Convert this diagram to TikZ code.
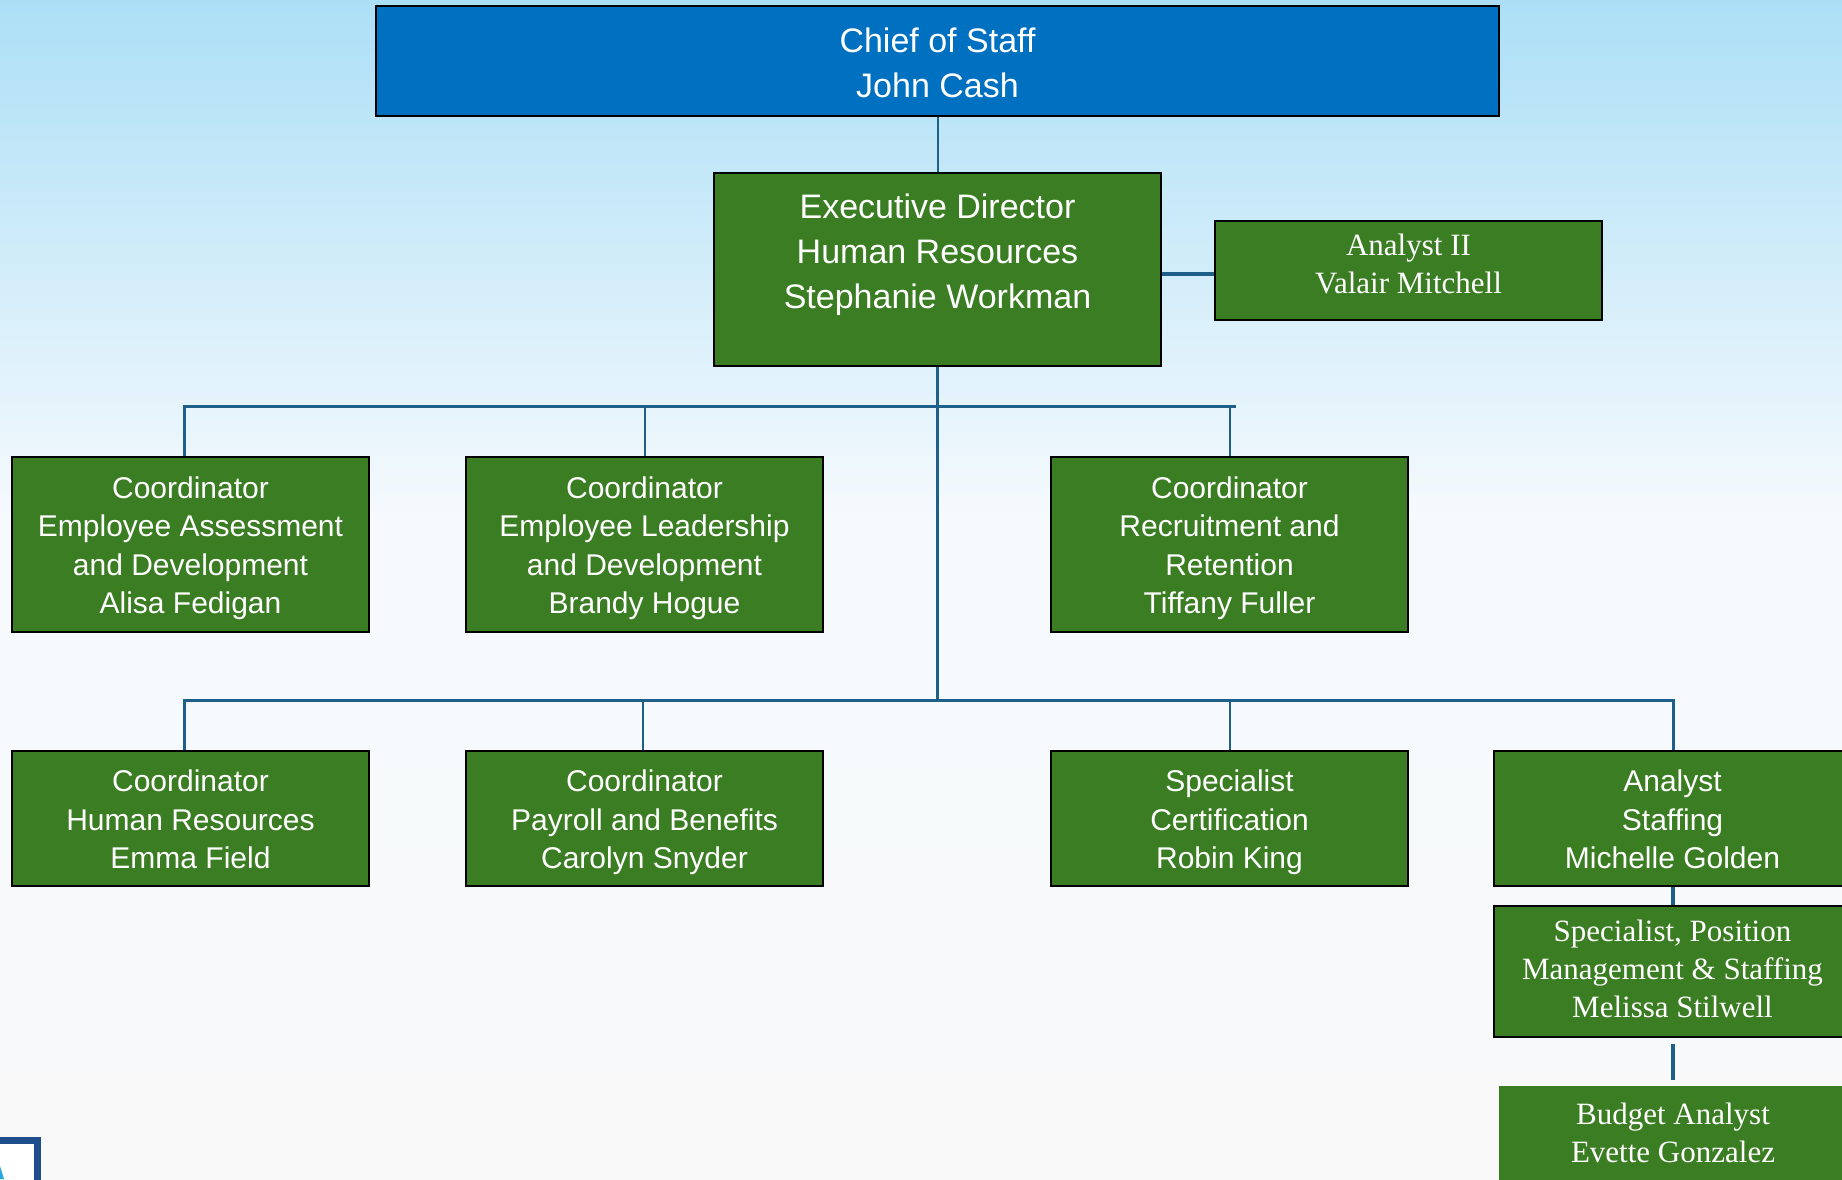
\documentclass[tikz,border=0pt]{standalone}
\usepackage{fontspec}
\setmainfont{Liberation Sans}
\newfontfamily\serifx{Liberation Serif}
\usetikzlibrary{calc}
\definecolor{ogreen}{RGB}{59,125,35}
\definecolor{oblue}{RGB}{0,112,192}
\definecolor{connc}{RGB}{31,96,138}
\definecolor{skytop}{RGB}{172,223,246}
\definecolor{midwhite}{RGB}{246,250,253}
\definecolor{botgray}{RGB}{249,249,249}
\definecolor{logoblue}{RGB}{31,78,140}
\definecolor{logocyan}{RGB}{40,170,225}
\begin{document}
\begin{tikzpicture}[x=1pt,y=-1pt,
  conn/.style={draw=connc, line width=2.8pt},
  gbox/.style={draw=black, line width=2.5pt, fill=ogreen, text=white, align=center, inner sep=0pt},
  rowbox/.style={gbox, minimum width=357pt},
  struts/.style={execute at begin node=\strut, execute at end node=\strut},
  sansrow/.style={font=\fontsize{30}{38.5}\selectfont, struts},
  sansbig/.style={font=\fontsize{34}{45}\selectfont, struts},
  serifrow/.style={font=\serifx\fontsize{31}{38}\selectfont, struts},
  plaintext/.style={text=white, align=center, inner sep=0pt}
]
\useasboundingbox (0,0) rectangle (1842,1179);
\clip (0,0) rectangle (1842,1179);
% background
\shade[top color=skytop, bottom color=midwhite] (0,0) rectangle (1842,521);
\shade[top color=midwhite, bottom color=botgray] (0,520) rectangle (1842,1179);

% top boxes
\node[gbox, fill=oblue, minimum width=1123pt, minimum height=110pt] (chief) at (937.5,61) {};
\node[plaintext, sansbig] (chiefT) at (937.5,69) {Chief of Staff\\John Cash};
\node[gbox, minimum width=447pt, minimum height=193pt] (exec) at (937.5,269.5) {};
\node[plaintext, sansbig] (execT) at (937.5,258) {Executive Director\\Human Resources\\Stephanie Workman};
\node[gbox, minimum width=387pt, minimum height=99pt] (an2) at (1408.5,270.5) {};
\node[plaintext, serifrow] (an2T) at (1408.5,269) {Analyst II\\Valair Mitchell};

% row 1
\node[rowbox, minimum height=175pt] (r1a) at (190.5,544.5) {};
\node[rowbox, minimum height=175pt] (r1b) at (644.5,544.5) {};
\node[rowbox, minimum height=175pt] (r1c) at (1229.5,544.5) {};
\node[plaintext, sansrow] (r1aT) at (190.5,551) {Coordinator\\Employee Assessment\\and Development\\Alisa Fedigan};
\node[plaintext, sansrow] (r1bT) at (644.5,551) {Coordinator\\Employee Leadership\\and Development\\Brandy Hogue};
\node[plaintext, sansrow] (r1cT) at (1229.5,551) {Coordinator\\Recruitment and\\Retention\\Tiffany Fuller};

% row 2
\node[rowbox, minimum height=135pt] (r2a) at (190.5,818.5) {};
\node[rowbox, minimum height=135pt] (r2b) at (644.5,818.5) {};
\node[rowbox, minimum height=135pt] (r2c) at (1229.5,818.5) {};
\node[rowbox, minimum height=135pt] (r2d) at (1672.5,818.5) {};
\node[plaintext, sansrow] (r2aT) at (190.5,825) {Coordinator\\Human Resources\\Emma Field};
\node[plaintext, sansrow] (r2bT) at (644.5,825) {Coordinator\\Payroll and Benefits\\Carolyn Snyder};
\node[plaintext, sansrow] (r2cT) at (1229.5,825) {Specialist\\Certification\\Robin King};
\node[plaintext, sansrow] (r2dT) at (1672.5,825) {Analyst\\Staffing\\Michelle Golden};

% staffing chain
\node[rowbox, minimum height=131pt] (spec) at (1672.5,971.5) {};
\node[plaintext, serifrow] (specT) at (1672.5,974) {Specialist, Position\\Management \& Staffing\\Melissa Stilwell};
\node[fill=ogreen, draw=none, minimum width=348pt, minimum height=96pt, inner sep=0pt] (bud) at (1673,1134) {};
\node[plaintext, serifrow] (budT) at (1673,1138) {Budget Analyst\\Evette Gonzalez};

% connectors
\coordinate (ea) at (1161,274);
\draw[conn, line width=2pt] (chief.south) -- (exec.north);
\draw[conn, line width=4pt] (exec.east |- ea) -- (an2.west |- ea);

\coordinate (busL) at (937.5,700);
\coordinate (dA) at (184,406);
\coordinate (dB) at (645,406);
\coordinate (dC) at (1230,406);
\coordinate (dCe) at (1236,406);
\coordinate (eA) at (184,700);
\coordinate (eB) at (643,700);
\coordinate (eC) at (1230,700);
\coordinate (eD) at (1673,700);

\draw[conn] (exec.south) -- (busL);
\draw[conn, line width=3pt] (dA |- r1a.north) -- (dA) -- (dCe);
\draw[conn] (dB) -- (dB |- r1b.north);
\draw[conn] (dC) -- (dC |- r1c.north);
\draw[conn, line width=3pt] (eA |- r2a.north) -- (eA) -- (eD) -- (eD |- r2d.north);
\draw[conn] (eB) -- (eB |- r2b.north);
\draw[conn] (eC) -- (eC |- r2c.north);

\draw[conn, line width=4pt] (r2d.south -| eD) -- (spec.north -| eD);
\draw[conn, line width=4pt] ($(spec.south -| eD)+(0,6)$) -- ($(bud.north -| eD)+(0,-6)$);

% corner logo fragment
\node[draw=logoblue, line width=7pt, fill=white, minimum width=50pt, minimum height=50pt, inner sep=0pt] (logo) at (12,1165) {};
\fill[logocyan] (0,1166) -- (4,1179) -- (0,1179) -- cycle;
\end{tikzpicture}
\end{document}
